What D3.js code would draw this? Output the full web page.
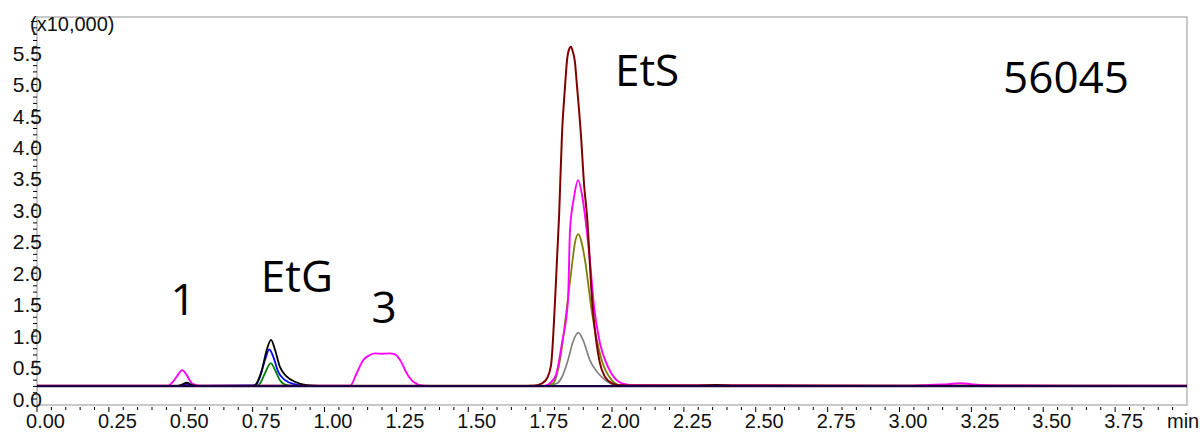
<!DOCTYPE html>
<html>
<head>
<meta charset="utf-8">
<script src="https://cdn.jsdelivr.net/npm/d3@7"></script>
<style>
  html, body { margin: 0; padding: 0; background: #fff; }
  svg { display: block; }
</style>
</head>
<body>
<svg id="chart" width="1202" height="433"></svg>
<script>
// ---------- data (time in min, intensity in x10,000) ----------
const xTickLabels = ["0.00","0.25","0.50","0.75","1.00","1.25","1.50","1.75","2.00","2.25","2.50","2.75","3.00","3.25","3.50","3.75"];
const yTickLabels = ["0.0","0.5","1.0","1.5","2.0","2.5","3.0","3.5","4.0","4.5","5.0","5.5"];
const peakLabels = ["1", "EtG", "3", "EtS", "56045"];
const peakLabelTimes = [0.508, 0.904, 1.207, 2.122, 3.579];
const peakLabelValues = [1.34, 1.70, 1.21, 4.98, 4.86];

const maroonTime = [0.00, 1.68, 1.73, 1.757, 1.774, 1.788, 1.802, 1.816, 1.826, 1.837, 1.843, 1.850, 1.857, 1.864, 1.871, 1.878, 1.892, 1.903, 1.913, 1.930, 1.958, 1.976, 2.000, 2.028, 2.10, 4.00];
const maroonValue = [0.21, 0.21, 0.215, 0.25, 0.33, 0.54, 1.57, 2.92, 4.20, 4.99, 5.36, 5.55, 5.60, 5.52, 5.36, 4.99, 4.20, 3.40, 2.92, 1.62, 0.57, 0.35, 0.25, 0.22, 0.215, 0.21];

const magentaTime = [0.00, 0.44, 0.456, 0.468, 0.486, 0.505, 0.521, 0.538, 0.555, 0.577, 1.07, 1.089, 1.112, 1.135, 1.158, 1.175, 1.200, 1.225, 1.245, 1.263, 1.286, 1.309, 1.344, 1.39, 1.75, 1.767, 1.788, 1.805, 1.826, 1.847, 1.854, 1.868, 1.882, 1.896, 1.910, 1.923, 1.937, 1.958, 1.983, 2.010, 2.035, 2.070, 2.50, 3.05, 3.10, 3.15, 3.21, 3.28, 3.40, 3.56, 4.00];
const magentaValue = [0.21, 0.21, 0.21, 0.25, 0.355, 0.46, 0.38, 0.25, 0.22, 0.21, 0.21, 0.21, 0.41, 0.62, 0.70, 0.725, 0.72, 0.725, 0.71, 0.62, 0.41, 0.275, 0.21, 0.205, 0.205, 0.21, 0.27, 0.38, 0.89, 1.57, 2.69, 3.21, 3.48, 3.24, 2.77, 2.21, 1.49, 0.89, 0.54, 0.33, 0.25, 0.22, 0.215, 0.21, 0.225, 0.23, 0.25, 0.225, 0.215, 0.21, 0.21];

const oliveTime = [0.00, 1.767, 1.795, 1.819, 1.842, 1.863, 1.871, 1.883, 1.892, 1.906, 1.929, 1.964, 1.999, 2.028, 4.00];
const oliveValue = [0.21, 0.21, 0.25, 0.62, 1.415, 2.21, 2.48, 2.62, 2.53, 2.21, 1.415, 0.62, 0.30, 0.22, 0.21];

const grayTime = [0.00, 1.777, 1.809, 1.826, 1.847, 1.864, 1.883, 1.899, 1.923, 1.964, 1.993, 2.021, 4.00];
const grayValue = [0.21, 0.21, 0.25, 0.35, 0.62, 0.906, 1.054, 0.94, 0.62, 0.35, 0.25, 0.21, 0.21];

const blackTime = [0.00, 0.490, 0.504, 0.521, 0.536, 0.553, 0.752, 0.764, 0.782, 0.799, 0.814, 0.828, 0.845, 0.869, 0.897, 0.938, 0.984, 2.30, 2.36, 2.42, 4.00];
const blackValue = [0.21, 0.21, 0.23, 0.26, 0.23, 0.21, 0.21, 0.25, 0.46, 0.78, 0.94, 0.78, 0.51, 0.355, 0.275, 0.22, 0.21, 0.21, 0.225, 0.21, 0.21];

const blueTime = [0.00, 0.492, 0.505, 0.519, 0.533, 0.548, 0.758, 0.776, 0.793, 0.808, 0.822, 0.839, 0.863, 0.891, 0.938, 4.00];
const blueValue = [0.21, 0.21, 0.225, 0.24, 0.225, 0.21, 0.215, 0.355, 0.62, 0.79, 0.67, 0.43, 0.30, 0.24, 0.21, 0.21];

const greenTime = [0.00, 0.762, 0.776, 0.793, 0.813, 0.831, 0.845, 0.869, 0.89, 4.00];
const greenValue = [0.21, 0.21, 0.25, 0.41, 0.57, 0.43, 0.30, 0.22, 0.21, 0.21];

const navyTime = [0.00, 4.00];
const navyValue = [0.205, 0.205];

// ---------- layout ----------
const svg = d3.select("#chart");
const mLeft = 37, mRight = 1187, mTop = 17, mBottom = 405;
const x = d3.scaleLinear().domain([0, 4.0]).range([mLeft, mRight]);
const y = d3.scaleLinear().domain([-0.095, 6.073]).range([mBottom, mTop]);

const labelFont = "'Liberation Sans', Arial, sans-serif";
const annoFont = "'Open Sans', 'Noto Sans', sans-serif";

// frame
svg.append("rect")
  .attr("x", mLeft).attr("y", mTop)
  .attr("width", mRight - mLeft).attr("height", mBottom - mTop)
  .attr("fill", "none").attr("stroke", "#a6a6a6").attr("stroke-width", 1.2);

// x ticks
const xMinor = d3.range(0, 80).map(i => i * 0.05);
svg.append("g").selectAll("line").data(xMinor).join("line")
  .attr("x1", d => x(d)).attr("x2", d => x(d))
  .attr("y1", mBottom + 2).attr("y2", d => (Math.round(d * 100) % 25 === 0) ? mBottom + 7 : mBottom + 5)
  .attr("stroke", "#000").attr("stroke-width", 1);
svg.append("g").selectAll("text").data(xTickLabels).join("text")
  .attr("x", d => x(+d) + 8.5).attr("y", 428)
  .attr("text-anchor", "middle")
  .attr("font-family", labelFont).attr("font-size", 20).attr("fill", "#111")
  .text(d => d);
svg.append("text").attr("x", 1167).attr("y", 428)
  .attr("font-family", labelFont).attr("font-size", 20).attr("fill", "#111").text("min");

// y ticks
const yMinor = d3.range(0, 61).map(i => i * 0.1);
svg.append("g").selectAll("line").data(yMinor).join("line")
  .attr("y1", d => y(d)).attr("y2", d => y(d))
  .attr("x1", mLeft).attr("x2", d => (Math.round(d * 10) % 5 === 0) ? mLeft - 6 : mLeft - 4)
  .attr("stroke", "#000").attr("stroke-width", 1);
svg.append("g").selectAll("text").data(yTickLabels).join("text")
  .attr("x", 42).attr("y", d => y(+d))
  .attr("dy", "0.36em")
  .attr("text-anchor", "end")
  .attr("font-family", labelFont).attr("font-size", 21).attr("fill", "#111")
  .text(d => d);
svg.append("text").attr("x", 30).attr("y", 31)
  .attr("font-family", labelFont).attr("font-size", 20).attr("fill", "#111").text("(x10,000)");

// traces
const series = [
  { color: "#808080", t: grayTime, v: grayValue, w: 1.7 },
  { color: "#808000", t: oliveTime, v: oliveValue, w: 1.8 },
  { color: "#ff00ff", t: magentaTime, v: magentaValue, w: 1.9 },
  { color: "#008000", t: greenTime, v: greenValue, w: 1.8 },
  { color: "#0000ff", t: blueTime, v: blueValue, w: 1.8 },
  { color: "#000000", t: blackTime, v: blackValue, w: 1.8 },
  { color: "#800000", t: maroonTime, v: maroonValue, w: 2.0 },
  { color: "#1a0040", t: navyTime, v: navyValue, w: 2.4 }
];

svg.append("clipPath").attr("id", "plotclip")
  .append("rect").attr("x", mLeft).attr("y", mTop).attr("width", mRight - mLeft).attr("height", mBottom - mTop);

const line = d3.line()
  .x(d => x(d[0])).y(d => y(d[1]))
  .curve(d3.curveMonotoneX);

svg.append("g").attr("clip-path", "url(#plotclip)")
  .selectAll("path").data(series).join("path")
  .attr("d", s => line(s.t.map((t, i) => [t, s.v[i]])))
  .attr("fill", "none")
  .attr("stroke", s => s.color)
  .attr("stroke-width", s => s.w)
  .attr("stroke-linejoin", "round");

// annotations
svg.append("g").selectAll("text").data(peakLabels).join("text")
  .attr("x", (d, i) => x(peakLabelTimes[i]))
  .attr("y", (d, i) => y(peakLabelValues[i]))
  .attr("text-anchor", "middle")
  .attr("font-family", annoFont).attr("font-size", 44).attr("fill", "#000")
  .text(d => d);
</script>
</body>
</html>
